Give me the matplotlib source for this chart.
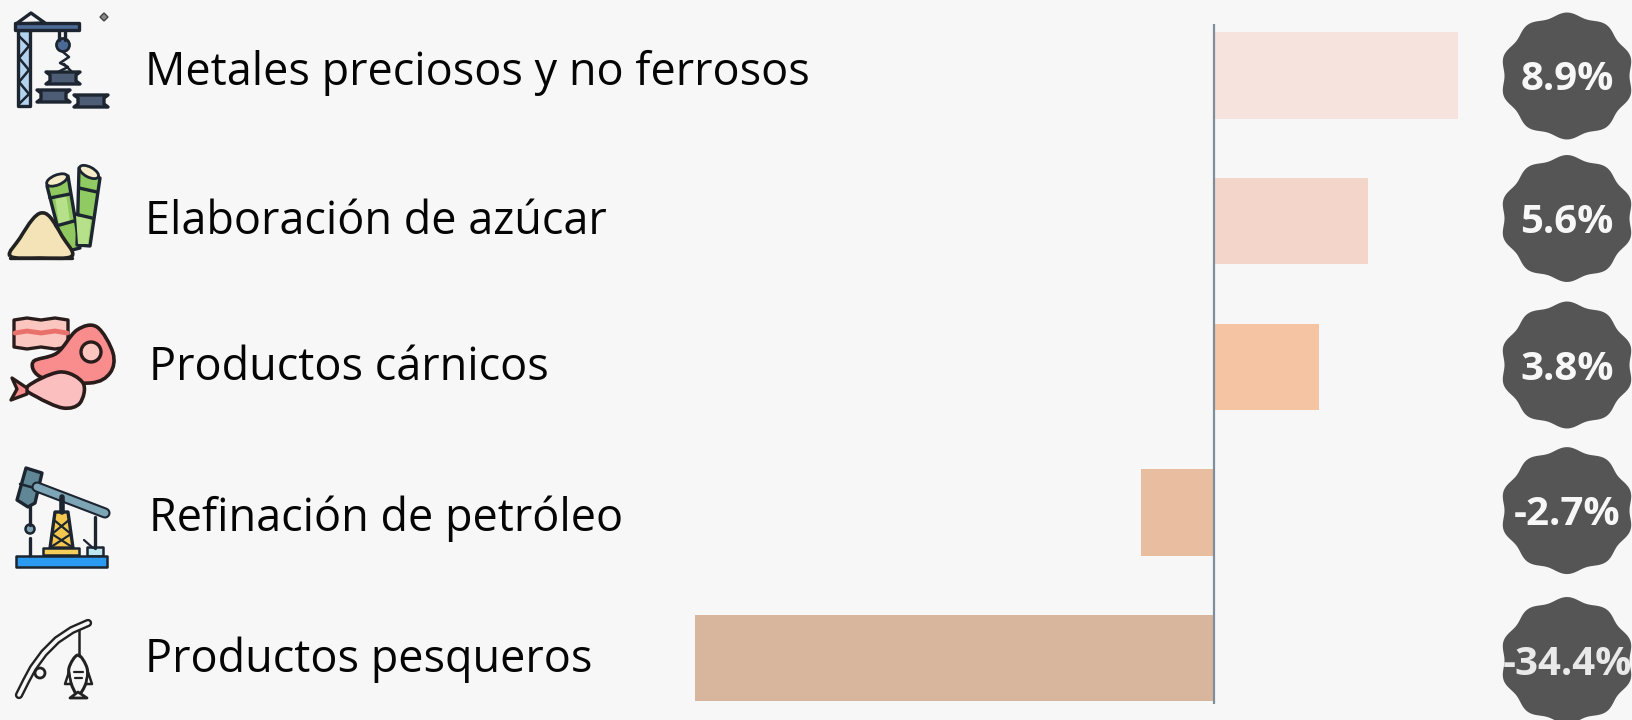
import numpy as np
import matplotlib
matplotlib.use("Agg")
import matplotlib.pyplot as plt
from matplotlib.patches import Polygon, Circle, Ellipse, PathPatch
from matplotlib.path import Path

categories = ["Metales preciosos y no ferrosos", "Elaboración de azúcar", "Productos cárnicos",
              "Refinación de petróleo", "Productos pesqueros"]
values = [8.9, 5.6, 3.8, -2.7, -34.4]
value_labels = ["8.9%", "5.6%", "3.8%", "-2.7%", "-34.4%"]
bar_colors = ["#f6e3dd", "#f4d5c9", "#f4c4a3", "#e8bda0", "#d8b69d"]

W, H = 1632, 720
BG = "#f7f7f7"
INK = "#1c2530"
DARK = "#222222"

plt.rcParams["font.family"] = ["Open Sans", "DejaVu Sans"]
fig = plt.figure(figsize=(W / 100, H / 100), dpi=100, facecolor=BG)

# the long bar runs off the left side on purpose, same as the reference
ax = fig.add_axes([695 / W, 0, (1632 - 695) / W, 1])
ax.set_facecolor("none")
px_per_unit = 27.3
ax.set_xlim(-(1215 - 695) / px_per_unit, (1632 - 1215) / px_per_unit)
ax.set_ylim(720 / 145.7 - 0.518, -0.518)
y = np.arange(len(values))
ax.barh(y, values, height=0.593, color=bar_colors)
ax.axis("off")

# overlay in pixel coordinates for labels, badges and icons
ov = fig.add_axes([0, 0, 1, 1])
ov.set_xlim(0, W)
ov.set_ylim(H, 0)
ov.axis("off")
ov.patch.set_alpha(0)

ov.plot([1214, 1214], [24, 704], color="#7f8e9c", lw=1.6, solid_capstyle="butt")

label_x = [145, 145, 149, 149, 145]
label_y = [73, 222, 368, 519, 660]
for name, lx, ly in zip(categories, label_x, label_y):
    ov.text(lx, ly, name, fontsize=32.4, color="#050505", va="center", ha="left")

theta = np.linspace(0, 2 * np.pi, 400)
badge_y = [76, 218.5, 365, 510.6, 660.5]
for txt, by in zip(value_labels, badge_y):
    r = 61.5 * (1 + 0.032 * np.cos(10 * theta))
    ov.add_patch(Polygon(np.c_[1567 + 1.05 * r * np.sin(theta), by + r * np.cos(theta)], color="#555555", lw=0))
    col = "#e9e9e9" if txt == "-34.4%" else "#f7f7f7"
    ov.text(1567, by + 4, txt, fontsize=29, fontweight="bold", color=col, ha="center", va="center")


def poly(pts, fc, lw=2.4, ec=INK):
    ov.add_patch(Polygon(pts, closed=True, fc=fc, ec=ec, lw=lw, joinstyle="round"))


def line(pts, lw=2.4, c=INK):
    p = np.array(pts)
    ov.plot(p[:, 0], p[:, 1], color=c, lw=lw, solid_capstyle="round")


def blob(pts, fc, lw=2.6, ec=DARK):
    # closed smooth shape through catmull-rom style curves
    pts = np.array(pts, float)
    n = len(pts)
    verts = [pts[0]]
    codes = [Path.MOVETO]
    for i in range(n):
        p0, p1, p2, p3 = pts[i - 1], pts[i], pts[(i + 1) % n], pts[(i + 2) % n]
        verts += [p1 + (p2 - p0) / 6, p2 - (p3 - p1) / 6, p2]
        codes += [Path.CURVE4] * 3
    ov.add_patch(PathPatch(Path(verts, codes), fc=fc, ec=ec, lw=lw))


def girder(x0, x1, yc):
    poly([(x0, yc - 6), (x1, yc - 6), (x1 - 4, yc - 3), (x1 - 4, yc + 3), (x1, yc + 6), (x0, yc + 6),
          (x0 + 4, yc + 3), (x0 + 4, yc - 3)], "#4c5d75")


# crane
poly([(16, 24), (31, 13), (45, 23)], BG)
poly([(18, 30), (30, 30), (30, 106), (18, 106)], "#b4d3ee")
line([(19, 36), (29, 46), (19, 58), (29, 70), (19, 82), (29, 94), (19, 104)], lw=1.8)
poly([(15, 23), (79, 23), (79, 30), (15, 30)], "#4c6a96")
line([(59, 31), (59, 40)], lw=2.4)
line([(65, 31), (65, 40)], lw=2.4)
ov.add_patch(Circle((63, 45), 6.5, fc="#4c6a96", ec=INK, lw=2))
line([(63, 52), (69, 57), (60, 63), (68, 67), (58, 72)], lw=1.8)
line([(64, 64), (72, 72)], lw=1.8)
girder(46, 80, 78)
girder(37, 70, 96)
girder(74, 108, 101)
ov.add_patch(Polygon([(104, 13), (108, 17), (104, 21), (100, 17)], fc="#8a8a8a", ec="#444444", lw=1))

# sugar cane and pile
poly([(47, 186), (68, 176), (80, 248), (64, 252)], "#8fc85f")
poly([(79, 168), (100, 178), (90, 246), (77, 245)], "#8fcb62")
poly([(55, 196), (66, 193), (70, 222), (59, 225)], "#b6e08a", lw=0, ec="none")
poly([(76, 216), (91, 218), (88, 244), (78, 244)], "#b6e08a", lw=0, ec="none")
line([(50, 198), (70, 194)])
line([(56, 226), (74, 221)])
line([(79, 188), (97, 192)])
line([(75, 214), (92, 218)])
ov.add_patch(Ellipse((57, 180), 22, 10, angle=-22, fc="#f6ecc8", ec=INK, lw=2))
ov.add_patch(Ellipse((89, 172), 21, 10, angle=28, fc="#f6ecc8", ec=INK, lw=2))
blob([(10, 256), (20, 238), (32, 220), (41, 213), (50, 217), (62, 236), (72, 256), (40, 258)], "#f4e3b7")
line([(10, 258), (72, 258)], lw=2.4, c=DARK)

# meat
bx = np.array([14, 27, 41, 55, 68])
poly(list(zip(bx, [320, 318, 320, 318, 320])) + list(zip(bx[::-1], [347, 349, 347, 349, 347])), "#fbc6c0", ec="#2b1c1c")
line(list(zip(bx + np.array([1, 0, 0, 0, -1]), [333, 331, 333, 331, 333])), lw=3.5, c="#e8716c")
blob([(33, 362), (57, 353), (77, 330), (97, 327), (113, 353), (110, 373), (90, 383), (43, 378)], "#f98d8d", ec="#2b1c1c")
ov.add_patch(Circle((91, 352), 10, fc="#fbc6c0", ec="#2b1c1c", lw=2.4))
blob([(27, 387), (60, 372), (83, 383), (80, 403), (63, 408), (37, 397)], "#fcbfc0", ec="#2b1c1c")
poly([(27, 388), (12, 378), (17, 389), (11, 400), (27, 394)], "#f98d8d", ec="#2b1c1c")

# pump jack
poly([(26, 468), (42, 473), (35, 503), (28, 507), (17, 500)], "#5f8795")
line([(20, 484), (38, 489)], lw=1.8)
line([(37, 487), (105, 513)], lw=8, c=INK)
line([(37, 487), (105, 513)], lw=5, c="#7ea5b5")
line([(62, 497), (62, 512)], lw=4)
line([(30, 507), (30, 525)])
ov.add_patch(Circle((30, 529), 4.5, fc="#7ea5b5", ec=INK, lw=1.8))
line([(30, 538), (30, 555)])
line([(95, 517), (95, 548)])
poly([(55, 512), (68, 512), (73, 548), (50, 548)], "#f4c84f")
line([(54, 520), (71, 534)], lw=1.6)
line([(69, 520), (52, 534)], lw=1.6)
line([(52, 534), (72, 547)], lw=1.6)
line([(71, 534), (51, 547)], lw=1.6)
poly([(43, 548), (79, 548), (79, 555), (43, 555)], "#f6cf5b", lw=1.8)
poly([(87, 547), (103, 547), (103, 556), (87, 556)], "#bfe7f2", lw=1.8)
line([(84, 540), (93, 548)], lw=1.6)
poly([(16, 556), (107, 556), (107, 567), (16, 567)], "#2a9bf0", lw=1.8)

# fishing rod
rod = [(19, 695), (26, 681), (33, 668), (44, 653), (57, 640), (72, 630), (88, 623)]
line(rod, lw=6, c=DARK)
line(rod, lw=2.6, c=BG)
ov.add_patch(Circle((40, 673), 5, fc=BG, ec=DARK, lw=2))
line([(79, 630), (79, 656)], lw=1.8, c=DARK)
blob([(78, 655), (87, 668), (86, 683), (78, 695), (71, 683), (69, 668)], BG, lw=2.2)
line([(74, 672), (83, 672)], lw=1.6, c=DARK)
line([(75, 678), (82, 678)], lw=1.6, c=DARK)
poly([(78, 692), (87, 698), (70, 698)], BG, lw=2, ec=DARK)
poly([(69, 672), (65, 684), (71, 684)], BG, lw=1.8, ec=DARK)
poly([(88, 672), (92, 684), (86, 684)], BG, lw=1.8, ec=DARK)

fig.savefig("out.png", dpi=100, facecolor=BG)
